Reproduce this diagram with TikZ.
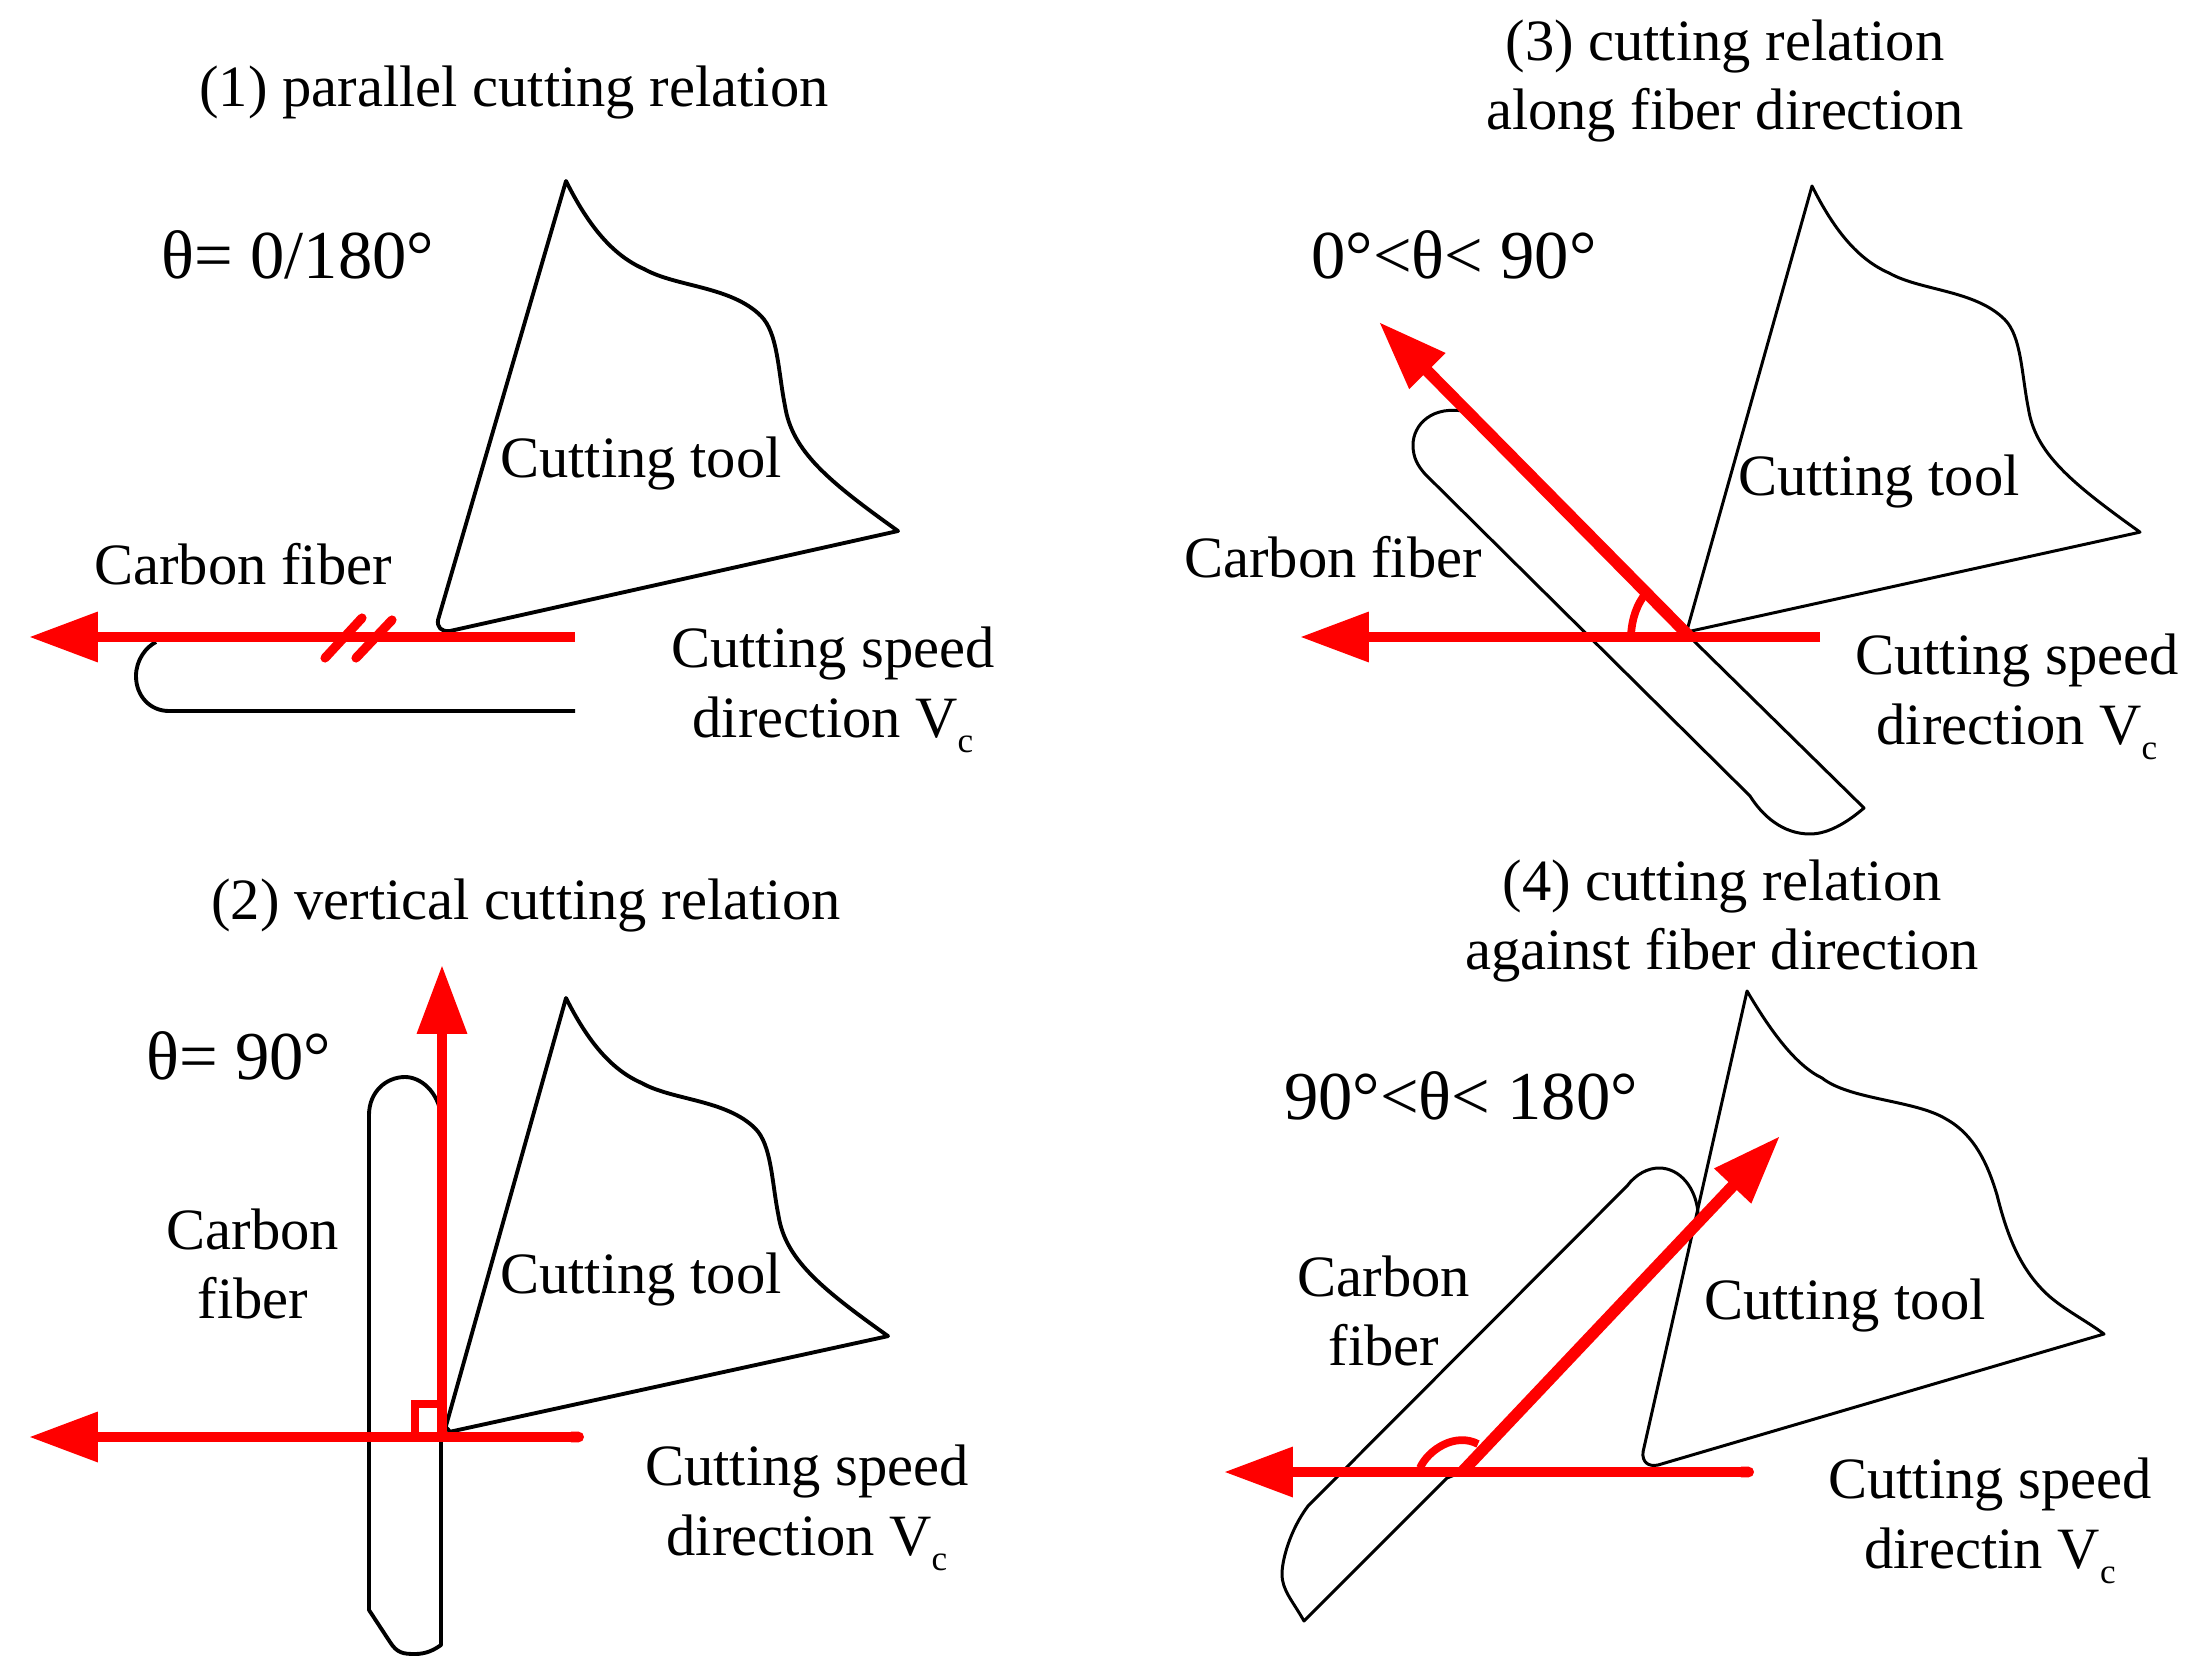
\documentclass[tikz,border=0pt]{standalone}
\usepackage{fontspec}
\setmainfont{Liberation Serif}
\usetikzlibrary{arrows.meta}
\newcommand{\Vsub}{V\raisebox{-0.55ex}{\fontsize{10}{10}\selectfont c}}
\newcommand{\toolcurve}{(0,0) .. controls (22,44) and (46,74) .. (78,88) .. controls (110,106) and (165,105) .. (195,135) .. controls (212,152) and (212,190) .. (219,225) .. controls (226,270) and (262,300) .. (332,350)}
\tikzset{
  x=0.01cm,y=-0.01cm,
  outlinea/.style={draw=black,line width=1.1pt,line join=round},
  outlineb/.style={draw=black,line width=0.85pt,line join=round},
  redarrow/.style={draw=red,line width=3pt,-{Triangle[length=19.6pt,width=13.6pt]}},
  reddiag/.style={draw=red,line width=3.3pt,-{Triangle[length=19.6pt,width=13.6pt]}},
  redround/.style={draw=red,line width=3pt,{Round Cap[]}-{Triangle[length=19.6pt,width=13.6pt]}},
  redmark/.style={draw=red,line width=2.2pt},
  label/.style={inner sep=0pt,align=center,font=\fontsize{16.65}{19.8}\selectfont},
  angletext/.style={inner sep=0pt,font=\fontsize{19.5}{23}\selectfont},
}
\begin{document}
\begin{tikzpicture}
\useasboundingbox (0,0) rectangle (2200,1673);
% ---------- panel 1
\begin{scope}[shift={(566,181)}]
\draw[outlinea] \toolcurve -- (-116,450) .. controls (-125,451) and (-129,446) .. (-128,439) -- cycle;
\end{scope}
\draw[outlinea] (575,711) -- (169,711) .. controls (150,711) and (136,696) .. (136,676) .. controls (136,660) and (146,647) .. (156,642);
\node[label] (t1) at (514,93) {(1) parallel cutting relation};
\node[angletext] (a1) at (298,255) {θ= 0/180°};
\node[label] (ct1) at (641,464) {Cutting tool};
\node[label] (cf1) at (243,564) {Carbon fiber};
\node[label] (cs1) at (833,690) {Cutting speed\\direction \Vsub};
\coordinate (r1s) at (575,637);
\coordinate (r1e) at (29,637);
\draw[redarrow] (r1s) -- (r1e);
\coordinate (s1a) at (325,658); \coordinate (s1b) at (362,618);
\coordinate (s2a) at (356,658); \coordinate (s2b) at (392,620);
\draw[redmark,line width=2.6pt,line cap=round] (s1a) -- (s1b);
\draw[redmark,line width=2.6pt,line cap=round] (s2a) -- (s2b);
% ---------- panel 3
\begin{scope}[shift={(1812,186)},xscale=.988,yscale=.989]
\draw[outlineb] \toolcurve -- (-127,451) -- cycle;
\end{scope}
\draw[outlineb] (1468,412) .. controls (1432,404) and (1413,425) .. (1413,445) .. controls (1413,458) and (1418,466) .. (1425,474) -- (1750,796) .. controls (1762,815) and (1782,834) .. (1810,834) .. controls (1830,834) and (1850,820) .. (1864,808) -- (1698,645) -- cycle;
\node[label] (t3) at (1725,81) {(3) cutting relation\\along fiber direction};
\node[angletext] (a3) at (1454,255) {0°<θ< 90°};
\node[label] (ct3) at (1879,482) {Cutting tool};
\node[label] (cf3) at (1333,557) {Carbon fiber};
\node[label] (cs3) at (2017,697) {Cutting speed\\direction \Vsub};
\coordinate (r3s) at (1820,637);
\coordinate (r3e) at (1300,637);
\draw[redarrow] (r3s) -- (r3e);
\coordinate (r3as) at (1690,637);
\coordinate (r3ae) at (1379,322);
\draw[reddiag] (r3as) -- (r3ae);
\coordinate (m3a) at (1631,635); \coordinate (m3b) at (1646,593);
\draw[redmark] (m3a) .. controls (1632,618) and (1637,604) .. (m3b);
% ---------- panel 2
\begin{scope}[shift={(566,998)},xscale=.97,yscale=.966]
\draw[outlinea] \toolcurve -- (-119.5,449) -- (-124,444) -- cycle;
\end{scope}
\draw[outlinea] (441,1115) .. controls (438,1092) and (421,1077) .. (405,1077) .. controls (386,1077) and (369,1092) .. (369,1115) -- (369,1610) -- (390,1642) .. controls (397,1653) and (403,1654) .. (415,1654) .. controls (426,1654) and (434,1650) .. (441,1645) -- cycle;
\node[label] (t2) at (526,906) {(2) vertical cutting relation};
\node[angletext] (a2) at (239,1056) {θ= 90°};
\node[label] (cf2) at (253,1264) {Carbon\\fiber};
\node[label] (ct2) at (641,1279) {Cutting tool};
\node[label] (cs2) at (807,1508) {Cutting speed\\direction \Vsub};
\coordinate (r2s) at (584,1437);
\coordinate (r2e) at (29,1437);
\draw[redround] (r2s) -- (r2e);
\coordinate (r2vs) at (442,1442);
\coordinate (r2ve) at (442,965);
\draw[redarrow] (r2vs) -- (r2ve);
\coordinate (m2a) at (415,1437); \coordinate (m2b) at (415,1404); \coordinate (m2c) at (442,1404);
\draw[redmark,line cap=butt] (m2a) -- (m2b) -- (m2c);
% ---------- panel 4
\draw[outlineb] (1747,991) .. controls (1770,1030) and (1795,1065) .. (1822,1078) .. controls (1850,1100) and (1915,1100) .. (1946,1119) .. controls (1975,1135) and (1988,1165) .. (1997,1195) .. controls (2007,1235) and (2020,1270) .. (2049,1296) .. controls (2065,1310) and (2085,1320) .. (2104,1334) -- (1658,1465) .. controls (1648,1467) and (1642,1462) .. (1643,1452) -- cycle;
\draw[outlineb] (1304,1621) .. controls (1292,1600) and (1282,1590) .. (1282,1574) .. controls (1282,1560) and (1290,1530) .. (1308,1506) -- (1627,1186) .. controls (1636,1174) and (1648,1168) .. (1659,1168) .. controls (1680,1168) and (1696,1188) .. (1698,1213) -- (1700,1221) -- (1462,1472) -- (1447,1478) -- cycle;
\node[label] (t4) at (1722,921) {(4) cutting relation\\against fiber direction};
\node[angletext] (a4) at (1461,1096) {90°<θ< 180°};
\node[label] (cf4) at (1384,1311) {Carbon\\fiber};
\node[label] (ct4) at (1845,1305) {Cutting tool};
\node[label] (cs4) at (1990,1521) {Cutting speed\\directin \Vsub};
\coordinate (r4s) at (1754,1472);
\coordinate (r4e) at (1224,1472);
\draw[redround] (r4s) -- (r4e);
\coordinate (r4ds) at (1462,1472);
\coordinate (r4de) at (1780,1136);
\draw[reddiag] (r4ds) -- (r4de);
\coordinate (m4a) at (1420,1468); \coordinate (m4b) at (1478,1444);
\draw[redmark] (m4a) .. controls (1428,1450) and (1455,1432) .. (m4b);
\end{tikzpicture}
\end{document}
